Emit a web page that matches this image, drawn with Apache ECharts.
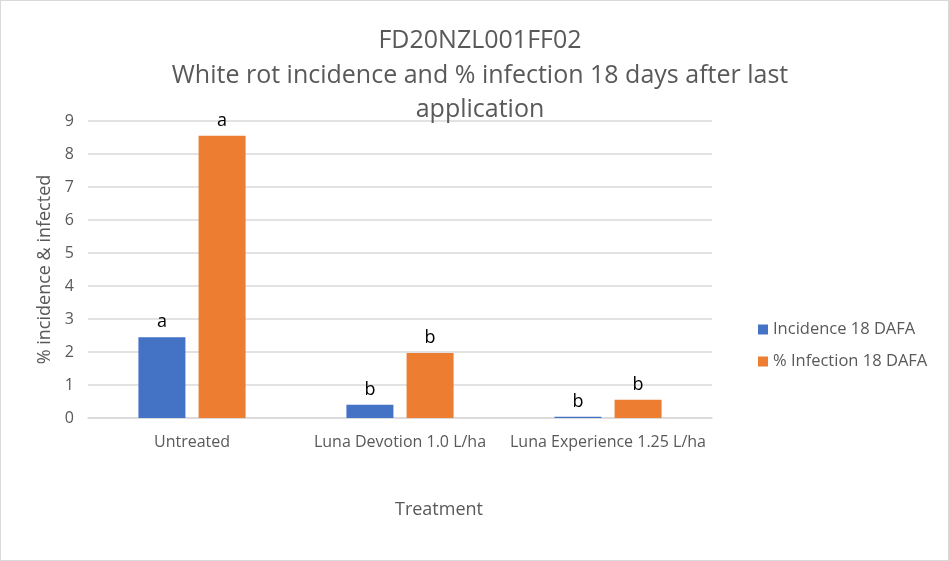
<!DOCTYPE html>
<html>
<head>
<meta charset="utf-8">
<script src="https://cdn.jsdelivr.net/npm/echarts@6/dist/echarts.min.js"></script>
<style>
  html, body { margin: 0; padding: 0; background: #fff; }
  #chart { width: 949px; height: 561px; box-sizing: border-box; border: 1px solid #d9d9d9; }
</style>
</head>
<body>
<div id="chart"></div>
<script>
// treatments on the x axis
const treatments = ["Untreated", "Luna Devotion 1.0 L/ha", "Luna Experience 1.25 L/ha"];
// series values
const incidence = [2.45, 0.4, 0.04];
const infection = [8.55, 1.97, 0.55];
// significance letters above each bar
const incidenceLetters = ["a", "b", "b"];
const infectionLetters = ["a", "b", "b"];

const font = "'Open Sans', 'Noto Sans', sans-serif";
const grey = "#595959";

const chart = echarts.init(document.getElementById("chart"));

const option = {
  animation: false,
  title: {
    text: "FD20NZL001FF02\nWhite rot incidence and % infection 18 days after last\napplication",
    left: 474,
    top: 18,
    textAlign: "center",
    textStyle: {
      fontFamily: font,
      fontSize: 25,
      fontWeight: "normal",
      color: grey,
      lineHeight: 34.5,
    },
  },
  legend: {
    orient: "vertical",
    left: 752,
    top: 315,
    itemWidth: 10,
    itemHeight: 10,
    itemGap: 15,
    icon: "rect",
    textStyle: { fontFamily: font, fontSize: 16.5, color: grey },
  },
  grid: { left: 87, right: 236, top: 120, bottom: 142 },
  xAxis: {
    type: "category",
    data: treatments,
    name: "Treatment",
    nameLocation: "middle",
    nameGap: 83,
    nameTextStyle: { fontFamily: font, fontSize: 18, color: grey, padding: [0, 0, 0, 78] },
    axisLine: { lineStyle: { color: "#d9d9d9", width: 1.5 } },
    axisTick: { show: false },
    axisLabel: { interval: 0, fontFamily: font, fontSize: 16, color: grey, margin: 16 },
  },
  yAxis: {
    type: "value",
    min: 0,
    max: 9,
    interval: 1,
    name: "% incidence & infected",
    nameLocation: "middle",
    nameGap: 33,
    nameTextStyle: { fontFamily: font, fontSize: 18, color: grey },
    axisLine: { show: false },
    axisTick: { show: false },
    axisLabel: { fontFamily: font, fontSize: 16, color: grey, margin: 14 },
    splitLine: { lineStyle: { color: "#d9d9d9", width: 1.5 } },
  },
  series: [
    {
      name: "Incidence 18 DAFA",
      type: "bar",
      data: incidence,
      barWidth: 47,
      barGap: "28%",
      itemStyle: { color: "#4472c4" },
      label: {
        show: true,
        position: "top",
        distance: 6,
        fontFamily: font,
        fontSize: 18,
        color: "#000",
        formatter: (p) => incidenceLetters[p.dataIndex],
      },
    },
    {
      name: "% Infection 18 DAFA",
      type: "bar",
      data: infection,
      barWidth: 47,
      itemStyle: { color: "#ed7d31" },
      label: {
        show: true,
        position: "top",
        distance: 6,
        fontFamily: font,
        fontSize: 18,
        color: "#000",
        formatter: (p) => infectionLetters[p.dataIndex],
      },
    },
  ],
};

chart.setOption(option);
</script>
</body>
</html>
